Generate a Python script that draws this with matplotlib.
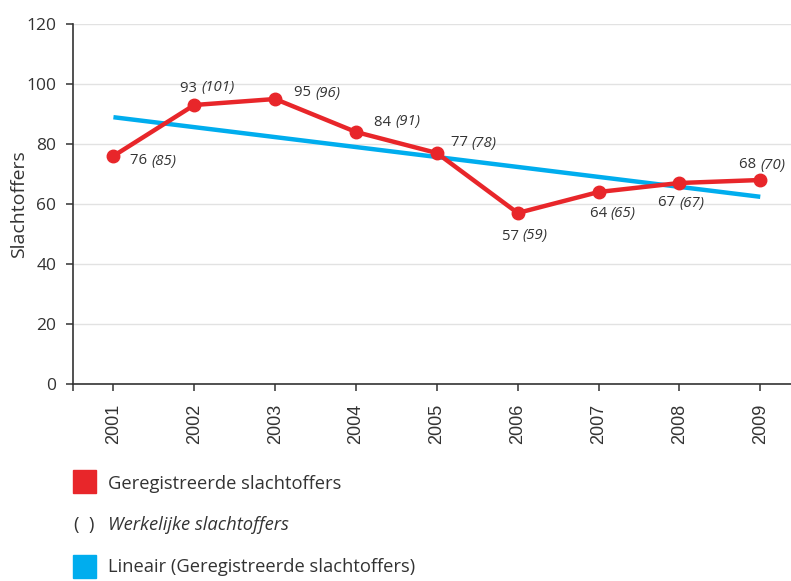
import numpy as np
import matplotlib
matplotlib.use("Agg")
import matplotlib.pyplot as plt
from matplotlib.patches import Rectangle

years = [2001, 2002, 2003, 2004, 2005, 2006, 2007, 2008, 2009]
registered = [76, 93, 95, 84, 77, 57, 64, 67, 68]
actual = [85, 101, 96, 91, 78, 59, 65, 67, 70]
yticks = [0, 20, 40, 60, 80, 100, 120]
# label centre offsets in pixels (dx right, dy up)
label_offsets = [(40, -5), (13, 17), (42, 6), (41, 10), (37, 10),
                 (7, -23), (14, -22), (2, -20), (2, 15)]

RED = "#E8262A"
BLUE = "#00ADEE"
TXT = "#333333"
FONT = "Open Sans"
plt.rcParams['font.family'] = [FONT, 'DejaVu Sans']

fig = plt.figure(figsize=(7.91, 5.81), dpi=100)
ax = fig.add_axes([73/791, 1-384/581, 1-73/791, 360/581])

x = np.array(years)
coef = np.polyfit(x, registered, 1)
trend = np.polyval(coef, x)

ax.plot(x, trend, color=BLUE, lw=3.2, solid_capstyle='butt', zorder=3)
ax.plot(x, registered, color=RED, lw=3.2, marker='o', ms=9, zorder=4)

ax.set_xlim(2000.5, 2009.38)
ax.set_ylim(0, 120)
ax.set_yticks(yticks)
ax.set_yticklabels([str(v) for v in yticks], fontsize=12.5)
ax.set_xticks([2000.5] + years)
ax.set_xticklabels([''] + [str(y) for y in years], rotation=90,
                   family=['Liberation Sans', 'DejaVu Sans'], fontsize=13)
ax.grid(axis='y', color='#e2e2e2', lw=1.0)
ax.set_axisbelow(True)
for s in ['top', 'right']:
    ax.spines[s].set_visible(False)
for s in ['left', 'bottom']:
    ax.spines[s].set_color(TXT)
    ax.spines[s].set_linewidth(1.2)
ax.tick_params(axis='both', colors=TXT, length=5, width=1.1)
ax.tick_params(axis='y', pad=7)
ax.tick_params(axis='x', pad=9)
ax.set_ylabel("Slachtoffers", fontsize=14, color=TXT)
ax.yaxis.set_label_coords((28 - 73) / 718, 0.5)

fig.canvas.draw()
renderer = fig.canvas.get_renderer()
fs = 10.7
for xi, yi, ai, (dx, dy) in zip(years, registered, actual, label_offsets):
    px, py = ax.transData.transform((xi, yi))
    t1 = fig.text(0, 0, f"{yi} ", fontsize=fs, color=TXT)
    t2 = fig.text(0, 0, f"({ai})", fontsize=fs, color=TXT, style='italic')
    w1 = t1.get_window_extent(renderer).width
    w2 = t2.get_window_extent(renderer).width
    left = px + dx - (w1 + w2) / 2
    cy = py + dy
    t1.set_position((left / fig.bbox.width, cy / fig.bbox.height))
    t1.set_va('center')
    t2.set_position(((left + w1) / fig.bbox.width, cy / fig.bbox.height))
    t2.set_va('center')

# legend
W, H = 791, 581
def fx(p): return p / W
def fy(p): return 1 - p / H
LFS = 13.2
fig.patches.append(Rectangle((fx(73), fy(493)), 23/W, 23/H, transform=fig.transFigure,
                             color=RED, figure=fig))
fig.text(fx(108), fy(484), "Geregistreerde slachtoffers", fontsize=LFS, color=TXT, va='center')
fig.text(fx(84), fy(525), "(  )", fontsize=LFS, color=TXT, va='center', ha='center')
fig.text(fx(108), fy(525), "Werkelijke slachtoffers", fontsize=LFS, color=TXT, va='center',
         style='italic')
fig.patches.append(Rectangle((fx(73), fy(578)), 23/W, 23/H, transform=fig.transFigure,
                             color=BLUE, figure=fig))
fig.text(fx(108), fy(567), "Lineair (Geregistreerde slachtoffers)", fontsize=LFS, color=TXT,
         va='center')

fig.savefig("out.png", dpi=100)
